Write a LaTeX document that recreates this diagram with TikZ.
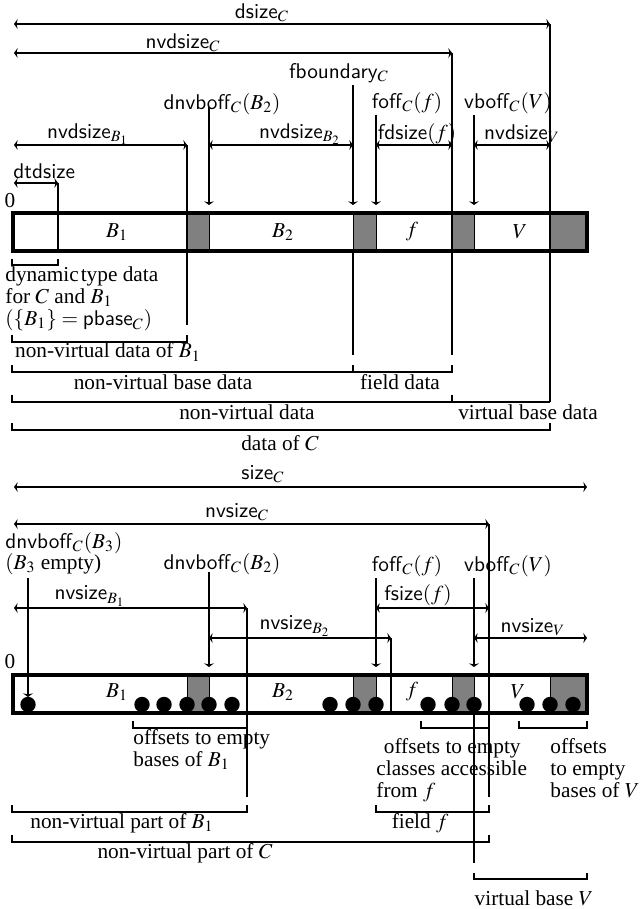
\documentclass[tikz,border=0pt]{standalone}
\usepackage{mathptmx}
\usepackage[no-math]{fontspec}
\setmainfont{Liberation Serif}
\usetikzlibrary{arrows.meta}
\newcommand\fnm[1]{\textsf{#1}}
\begin{document}
\begin{tikzpicture}[x=0.47pt,y=-0.47pt,
  ln/.style={line width=0.5pt},
  tipA/.tip={Stealth[length=1.7pt,width=4.6pt,inset=0.5pt]},
  dimarr/.style={ln,tipA-tipA},
  ptr/.style={ln,-tipA},
  thickbar/.style={line width=1.8pt},
  grayb/.style={fill=black!50,draw=black,line width=0.4pt},
  lbl/.style={inner sep=0pt,font=\fontsize{10}{10.3}\selectfont},
  txt/.style={lbl,align=left},
  dotc/.style={fill=black}]
\useasboundingbox (0,0) rectangle (639,909);

% ================= TOP =================
% bar
\fill[white] (13,213) rectangle (587,251);
\draw[grayb] (187,213) rectangle (209,251);
\draw[grayb] (353,213) rectangle (376,251);
\draw[grayb] (452,213) rectangle (474,251);
\draw[grayb] (550,213) rectangle (587,251);

% dimension arrows
\draw[dimarr] (14,24) -- (550,24);
\draw[dimarr] (14,53) -- (452,53);
\draw[dimarr] (14,145) -- (187,145);
\draw[dimarr] (209,145) -- (353,145);
\draw[dimarr] (376,145) -- (452,145);
\draw[dimarr] (474,145) -- (550,145);
\draw[dimarr] (14,183) -- (58,183);

% pointers
\draw[ptr] (353,85) -- (353,205);
\draw[ptr] (209,107) -- (209,205);
\draw[ptr] (376,115) -- (376,205);
\draw[ptr] (474,115) -- (474,205);

% verticals
\draw[ln] (58,183) -- (58,251);
\draw[ln] (187,145) -- (187,325);
\draw[ln] (353,251) -- (353,355);
\draw[ln] (452,53) -- (452,355);
\draw[ln] (550,24) -- (550,402);

% brackets
\draw[ln] (12,259) -- (12,265) -- (58,265) -- (58,259);
\draw[ln] (12,335) -- (12,342) -- (187,342) -- (187,335);
\draw[ln] (12,365) -- (12,372) -- (452,372) -- (452,365);
\draw[ln] (353,365) -- (353,372);
\draw[ln] (12,395) -- (12,402) -- (550,402);
\draw[ln] (452,395) -- (452,402);
\draw[ln] (12,423) -- (12,430) -- (550,430) -- (550,423);

\draw[thickbar] (13,213) rectangle (587,251);

% labels
\node[lbl] (tdsize) at (262,13) {\fnm{dsize}$_C$};
\node[lbl] (tnvdsizeC) at (183,43) {\fnm{nvdsize}$_C$};
\node[lbl] (tfb) at (339,73) {\fnm{fboundary}$_C$};
\node[lbl] (tdnvB2) at (222,104) {\fnm{dnvboff}$_C(B_2)$};
\node[lbl] (tfoff) at (407,103) {\fnm{foff}$_C(f)$};
\node[lbl] (tvboff) at (508,103) {\fnm{vboff}$_C(V)$};
\node[lbl] (tnvB1) at (88,134) {\fnm{nvdsize}$_{B_1}$};
\node[lbl] (tnvB2) at (300,134) {\fnm{nvdsize}$_{B_2}$};
\node[lbl] (tfds) at (417,134) {\fnm{fdsize}$(f)$};
\node[lbl] (tnvV) at (522,134) {\fnm{nvdsize}$_V$};
\node[lbl,anchor=west] (tdtd) at (13,171) {\fnm{dtdsize}};
\node[lbl] (tzero) at (10,201) {0};

\node[lbl] (tbB1) at (117,232) {$B_1$};
\node[lbl] (tbB2) at (283,232) {$B_2$};
\node[lbl] (tbf) at (412,232) {$f$};
\node[lbl] (tbV) at (520,232) {$V$};

\node[txt,anchor=north west] (tdyn) at (5,266)
  {dynamic\kern1pt type data\\for $C$ and $B_1$\\$(\{B_1\}=\fnm{pbase}_C)$};
\node[lbl] (tnvdB1) at (108,352) {non-virtual data of $B_1$};
\node[lbl] (tnvbd) at (163,382) {non-virtual base data};
\node[lbl] (tfd) at (400,382) {field data};
\node[lbl] (tnvd) at (247,412) {non-virtual data};
\node[lbl] (tvbd) at (528,412) {virtual base data};
\node[lbl] (tdC) at (280,443) {data of $C$};

% ================= BOTTOM =================
\fill[white] (13,675) rectangle (587,713);
\draw[grayb] (187,675) rectangle (209,713);
\draw[grayb] (353,675) rectangle (376,713);
\draw[grayb] (452,675) rectangle (474,713);
\draw[grayb] (550,675) rectangle (587,713);

\draw[dimarr] (14,487) -- (587,487);
\draw[dimarr] (14,524) -- (489,524);
\draw[dimarr] (14,608) -- (247,608);
\draw[dimarr] (209,638) -- (391,638);
\draw[dimarr] (376,608) -- (489,608);
\draw[dimarr] (474,638) -- (587,638);

\draw[ln] (247,608) -- (247,797);
\draw[ln] (391,638) -- (391,713);
\draw[ln] (489,524) -- (489,797);
\draw[ln] (474,713) -- (474,863);

% dots
\foreach \xx in {28,142,164,187,209,232,330,353,376,428,452,474,527,550,573}
  \fill[dotc] (\xx,704.5) circle[radius=7.7];

\draw[ptr] (28,578) -- (28,697);
\draw[ptr] (209,572) -- (209,667);
\draw[ptr] (376,578) -- (376,667);
\draw[ptr] (474,578) -- (474,667);

% brackets
\draw[ln] (133,721) -- (133,728) -- (247,728);
\draw[ln] (421,721) -- (421,728) -- (489,728);
\draw[ln] (519,721) -- (519,728) -- (587,728) -- (587,721);
\draw[ln] (12,805) -- (12,812) -- (247,812) -- (247,805);
\draw[ln] (376,805) -- (376,812) -- (489,812) -- (489,805);
\draw[ln] (12,835) -- (12,842) -- (489,842) -- (489,835);
\draw[ln] (474,873) -- (474,879) -- (587,879) -- (587,873);

\draw[thickbar] (13,675) rectangle (587,713);

% labels
\node[lbl] (bsize) at (263,474) {\fnm{size}$_C$};
\node[lbl] (bnvsC) at (237,512) {\fnm{nvsize}$_C$};
\node[lbl,anchor=west] (bdnvB3) at (5,543) {\fnm{dnvboff}$_C(B_3)$};
\node[lbl,anchor=west] (bB3e) at (5,564) {$(B_3$ empty)};
\node[lbl] (bdnvB2) at (222,564) {\fnm{dnvboff}$_C(B_2)$};
\node[lbl] (bnvsB1) at (90,596) {\fnm{nvsize}$_{B_1}$};
\node[lbl] (bnvsB2) at (295,626) {\fnm{nvsize}$_{B_2}$};
\node[lbl] (bfoff) at (407,566) {\fnm{foff}$_C(f)$};
\node[lbl] (bvboff) at (508,566) {\fnm{vboff}$_C(V)$};
\node[lbl] (bfsize) at (418,595) {\fnm{fsize}$(f)$};
\node[lbl] (bnvsV) at (533,627) {\fnm{nvsize}$_V$};
\node[lbl] (bzero) at (10,662) {0};

\node[lbl] (bbB1) at (117,692) {$B_1$};
\node[lbl] (bbB2) at (283,692) {$B_2$};
\node[lbl] (bbf) at (412,692) {$f$};
\node[lbl] (bbV) at (518,692) {$V$};

\node[txt,anchor=north west] (boB1) at (133,729) {offsets to empty\\bases of $B_1$};
\node[txt,anchor=north west] (bof) at (376,738) {\hspace{3.5pt}offsets to empty\\classes accessible\\from $f$};
\node[txt,anchor=north west] (boV) at (550,738) {offsets\\to empty\\bases of $V$};
\node[lbl] (bnvpB1) at (122,823) {non-virtual part of $B_1$};
\node[lbl] (bff) at (420,823) {field $f$};
\node[lbl] (bnvpC) at (185,853) {non-virtual part of $C$};
\node[lbl] (bvbV) at (534,898) {virtual base $V$};
\end{tikzpicture}
\end{document}
